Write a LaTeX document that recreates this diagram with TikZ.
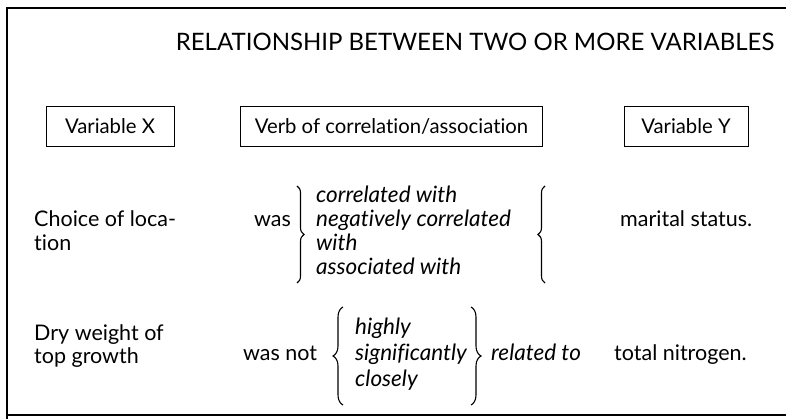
\documentclass[tikz,border=0pt]{standalone}
\usepackage{fontspec}
\setmainfont{Lato}[Ligatures=NoCommon]
\usetikzlibrary{decorations.pathreplacing}
\begin{document}
\begin{tikzpicture}[x=1pt,y=1pt,
  every node/.style={inner sep=0pt},
  body/.style={font=\fontsize{21.5}{24}\selectfont, align=left},
  ital/.style={font=\fontsize{22.5}{24}\selectfont\itshape, align=left},
  hbox/.style={draw, line width=0.9pt, font=\fontsize{20.3}{24}\selectfont, minimum height=40pt},
  bracestyle/.style={line width=1.1pt, decorate, decoration={brace, amplitude=#1}},
  bracestyle/.default=7pt
]
\useasboundingbox (0,0) rectangle (786,419);
% frame
\draw[line width=1.1pt] (786,411) -- (7,411) -- (7,0);
\draw[line width=1.1pt] (7,4) -- (786,4);

\node[font=\fontsize{24}{28}\selectfont] (title) at (475,377) {RELATIONSHIP BETWEEN TWO OR MORE VARIABLES};

\node[hbox, minimum width=128pt] (bx) at (110,293) {Variable X};
\node[hbox, minimum width=302pt] (bv) at (391.5,293) {Verb of correlation/association};
\node[hbox, minimum width=124pt] (by) at (686,293) {Variable Y};

% row 1
\node[body, anchor=west] (choice) at (34,185.4) {\strut Choice of loca-\\\strut tion};
\node[body, anchor=base west] (was) at (254,192.6) {was};
\node[ital, anchor=west] (list1) at (316,185.2) {\strut correlated with\\\strut negatively correlated\\\strut with\\\strut associated with};
\draw[bracestyle=7pt] (297,233) -- (297,136);
\draw[bracestyle=7pt] (545,136) -- (545,233);
\node[body, anchor=base west] (status) at (620,192.6) {marital status.};

% row 2
\node[body, anchor=west, font=\fontsize{21.5}{23}\selectfont] (dry) at (34,71.7) {\strut Dry weight of\\\strut top growth};
\node[body, anchor=base west] (wasnot) at (243,58.6) {was not};
\node[ital, anchor=west, font=\fontsize{22.5}{26}\selectfont\itshape] (list2) at (355,63.6) {\strut highly\\\strut significantly\\\strut closely};
\draw[bracestyle=10pt] (343,14) -- (343,112);
\draw[bracestyle=10pt] (471,112) -- (471,14);
\node[ital, anchor=base west] (related) at (491,58.4) {related to};
\node[body, anchor=base west] (nitrogen) at (614,58.6) {total nitrogen.};
\end{tikzpicture}
\end{document}
